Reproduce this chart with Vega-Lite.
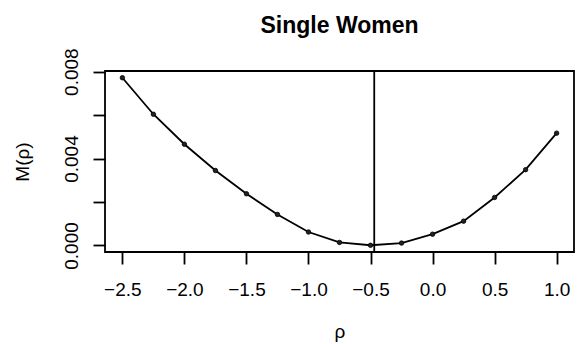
{
  "$schema": "https://vega.github.io/schema/vega-lite/v6.json",
  "width": 469,
  "height": 181,
  "autosize": {"type": "none"},
  "padding": {"left": 105, "top": 71, "right": 4, "bottom": 92},
  "background": "white",
  "title": {
    "text": "Single Women",
    "font": "Liberation Sans",
    "fontSize": 23,
    "fontWeight": "bold",
    "color": "black",
    "anchor": "middle",
    "offset": 10
  },
  "config": {
    "view": {"stroke": "black", "strokeWidth": 1.8},
    "axis": {
      "labelFont": "Liberation Sans",
      "titleFont": "Liberation Sans",
      "labelFontSize": 19,
      "titleFontSize": 19,
      "labelColor": "black",
      "titleColor": "black",
      "titleFontWeight": "normal",
      "tickColor": "black",
      "tickWidth": 1.8,
      "tickSize": 12,
      "domain": false,
      "grid": false
    }
  },
  "data": {
    "values": [
      {"rho": -2.5, "M": 0.00772},
      {"rho": -2.25, "M": 0.00604},
      {"rho": -2.0, "M": 0.00466},
      {"rho": -1.75, "M": 0.00345},
      {"rho": -1.5, "M": 0.00238},
      {"rho": -1.25, "M": 0.00143},
      {"rho": -1.0, "M": 0.00062},
      {"rho": -0.75, "M": 0.00014},
      {"rho": -0.5, "M": 0.00001},
      {"rho": -0.25, "M": 0.00011},
      {"rho": 0.0, "M": 0.00052},
      {"rho": 0.25, "M": 0.00112},
      {"rho": 0.5, "M": 0.00221},
      {"rho": 0.75, "M": 0.00349},
      {"rho": 1.0, "M": 0.00517}
    ]
  },
  "encoding": {
    "x": {
      "field": "rho",
      "type": "quantitative",
      "scale": {"domain": [-2.64, 1.14], "nice": false, "zero": false},
      "axis": {
        "title": "ρ",
        "values": [-2.5, -2.0, -1.5, -1.0, -0.5, 0.0, 0.5, 1.0],
        "format": ".1f",
        "labelPadding": 16,
        "titleY": 79,
        "titleBaseline": "middle"
      }
    },
    "y": {
      "field": "M",
      "type": "quantitative",
      "scale": {"domain": [-0.0003, 0.00803], "nice": false, "zero": false},
      "axis": {
        "title": "M(ρ)",
        "values": [0, 0.002, 0.004, 0.006, 0.008],
        "format": ".3f",
        "labelExpr": "indexof(['0.000','0.004','0.008'], datum.label) >= 0 ? datum.label : ''",
        "labelAngle": -90,
        "labelAlign": "center",
        "labelBaseline": "bottom",
        "labelPadding": 12,
        "titleX": -83,
        "titleBaseline": "middle"
      }
    }
  },
  "layer": [
    {"mark": {"type": "line", "color": "black", "strokeWidth": 1.8}},
    {"mark": {"type": "point", "filled": true, "color": "#222222", "size": 20, "opacity": 1, "stroke": "black", "strokeWidth": 0.8}},
    {
      "data": {"values": [{"v": -0.47}]},
      "mark": {"type": "rule", "color": "black", "strokeWidth": 1.8},
      "encoding": {"x": {"field": "v", "type": "quantitative"}, "y": null}
    }
  ]
}
